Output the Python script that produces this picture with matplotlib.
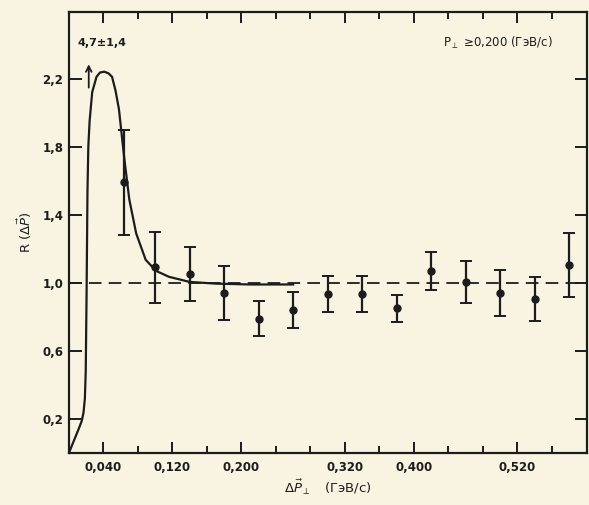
import numpy as np
import matplotlib.pyplot as plt

# measured points, R(dP) vs dP_perp
dp = [0.064, 0.10, 0.14, 0.18, 0.22, 0.26, 0.30, 0.34, 0.38, 0.42, 0.46, 0.50, 0.54, 0.58]
r = [1.59, 1.09, 1.05, 0.94, 0.79, 0.84, 0.935, 0.935, 0.85, 1.07, 1.005, 0.94, 0.905, 1.105]
r_err = [0.31, 0.21, 0.16, 0.16, 0.10, 0.105, 0.105, 0.105, 0.08, 0.11, 0.125, 0.135, 0.13, 0.19]

# theoretical curve
curve_x = [0.0, 0.004, 0.008, 0.012, 0.015, 0.017, 0.0185, 0.0195, 0.0205, 0.0215, 0.0225,
           0.024, 0.027, 0.032, 0.036, 0.041, 0.046, 0.050, 0.054, 0.058, 0.064, 0.070,
           0.078, 0.089, 0.101, 0.116, 0.14, 0.17, 0.21, 0.26]
curve_y = [0.0, 0.05, 0.1, 0.15, 0.19, 0.24, 0.32, 0.48, 0.94, 1.53, 1.8,
           1.95, 2.12, 2.21, 2.235, 2.24, 2.23, 2.21, 2.13, 2.02, 1.74, 1.49,
           1.29, 1.135, 1.07, 1.035, 1.005, 0.995, 0.99, 0.99]

xticks_major = [0.04, 0.12, 0.20, 0.32, 0.40, 0.52]
xtick_labels = ['0,040', '0,120', '0,200', '0,320', '0,400', '0,520']
xticks_minor = [0.08, 0.16, 0.24, 0.28, 0.36, 0.44, 0.48, 0.56]
yticks = [0.2, 0.6, 1.0, 1.4, 1.8, 2.2]
ytick_labels = ['0,2', '0,6', '1,0', '1,4', '1,8', '2,2']

paper = '#f8f4e1'
ink = '#1c1c1c'

plt.rcParams['font.family'] = ['DejaVu Sans']
plt.rcParams['mathtext.fontset'] = 'dejavusans'

fig = plt.figure(figsize=(5.89, 5.05), dpi=100, facecolor=paper)
ax = fig.add_axes([0.117, 0.103, 0.88, 0.873], facecolor=paper)

ax.axhline(1.0, color=ink, lw=1.3, dashes=(7, 4))
ax.plot(curve_x, curve_y, color=ink, lw=1.6, solid_joinstyle='round')
ax.errorbar(dp, r, yerr=r_err, fmt='o', color=ink, ms=5, capsize=4,
            elinewidth=1.6, capthick=1.4)

ax.annotate('', xy=(0.023, 2.3), xytext=(0.023, 2.13),
            arrowprops=dict(arrowstyle='->', color=ink, lw=1.3))
ax.text(0.038, 2.41, '4,7±1,4', ha='center', va='center', fontsize=8,
        color=ink, fontweight='bold')
ax.text(0.434, 2.41, r'P$_{\perp}$ ≥0,200 (ГэВ/с)', ha='left', va='center',
        fontsize=8.5, color=ink)

ax.set_xlim(0, 0.601)
ax.set_ylim(0, 2.59)

ax.set_xticks(xticks_major)
ax.set_xticklabels(xtick_labels, fontweight='bold')
ax.set_xticks(xticks_minor, minor=True)
ax.set_yticks(yticks)
ax.set_yticklabels(ytick_labels, fontweight='bold')

ax.tick_params(axis='both', which='both', direction='in', top=True, right=True,
               colors=ink, labelsize=8.5, width=1.4)
ax.tick_params(axis='x', which='major', length=8, pad=6)
ax.tick_params(axis='x', which='minor', length=5)
ax.tick_params(axis='y', which='major', length=9, pad=4)

for s in ax.spines.values():
    s.set_linewidth(1.6)
    s.set_color(ink)

ax.set_xlabel(r'$\Delta\vec{P}_{\perp}$   (ГэВ/с)', fontsize=9.5, color=ink, labelpad=2)
ax.set_ylabel(r'R ($\Delta\vec{P}$)', fontsize=9.5, color=ink, labelpad=6)

fig.savefig('out.png', dpi=100, facecolor=paper)
